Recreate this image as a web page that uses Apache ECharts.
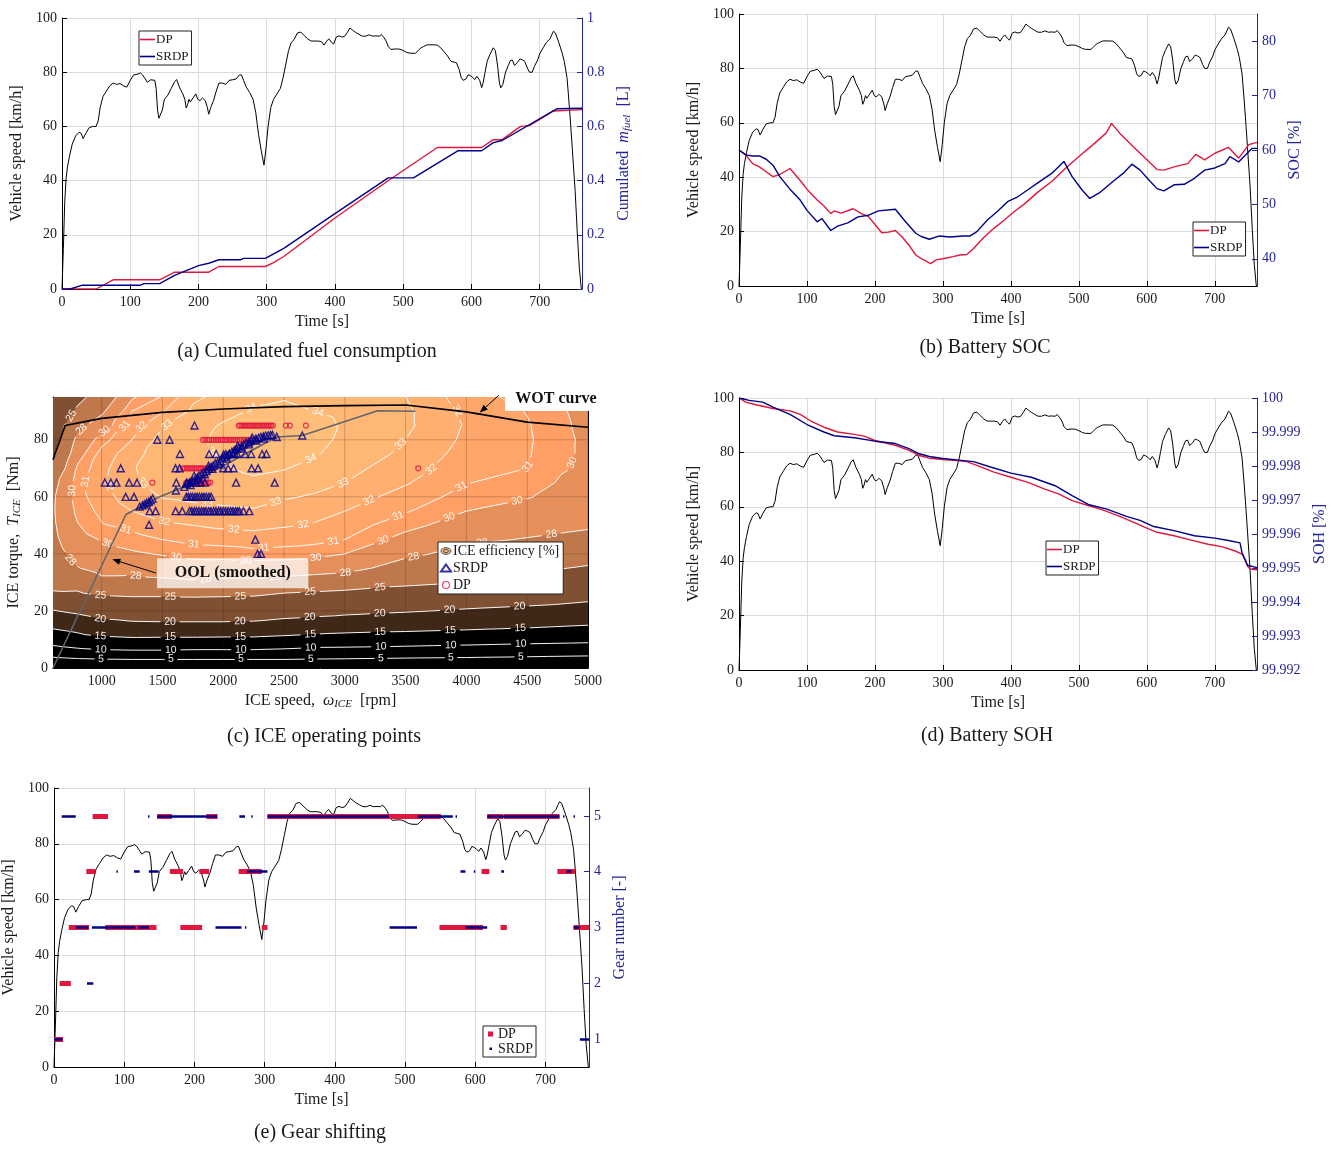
<!DOCTYPE html>
<html>
<head>
<meta charset="utf-8">
<title>DP vs SRDP energy management results</title>
<script src="https://cdn.jsdelivr.net/npm/echarts@6.0.0/dist/echarts.min.js"></script>
<style>
html, body { margin: 0; padding: 0; background: #fff; }
#wrap { position: relative; width: 1333px; height: 1149px; overflow: hidden; background: #fff; }
.panel { position: absolute; }
</style>
</head>
<body>
<div id="wrap">
  <div id="pa" class="panel" style="left:0;top:0;width:660px;height:378px"></div>
  <div id="pb" class="panel" style="left:660px;top:0;width:673px;height:378px"></div>
  <div id="pc" class="panel" style="left:0;top:380px;width:660px;height:385px"></div>
  <div id="pd" class="panel" style="left:660px;top:380px;width:673px;height:385px"></div>
  <div id="pe" class="panel" style="left:0;top:770px;width:660px;height:379px"></div>
</div>
<script>
// ---------------- drive-cycle speed trace [s, km/h] ----------------
const SPEED = [[0,0],[2,15],[4,32],[6,41],[8,45],[11,49],[15,53.5],[20,56.5],[25,57.8],[28,57.5],[31,55.5],[35,57.5],[40,59.6],[46,60],[50,60],[53,62],[56,67],[60,71],[65,73],[70,75],[75,76],[80,75.5],[85,75.8],[90,75],[95,74.5],[100,77],[105,79],[110,79.2],[115,79.7],[118,79],[122,77.5],[125,76.3],[130,77.2],[136,77],[138,74],[140,66],[142,63],[144,63],[147,66],[150,70],[155,71.5],[160,74],[165,76.5],[168,77.3],[172,74.5],[177,72],[180,70],[182,66.8],[184,68],[186,70],[188,69],[192,70.5],[196,72],[199,70],[202,69.5],[206,70.5],[210,69.5],[213,67],[215,64.5],[218,67],[222,69.5],[226,73],[230,76],[235,76],[240,75.5],[245,77],[250,77.2],[255,77.5],[260,79],[263,79],[266,77],[270,74.5],[275,72.5],[280,70],[284,65],[288,57],[292,51],[296,45.7],[299,52],[302,60],[306,67],[310,70],[315,72],[320,74],[324,78],[328,83],[332,88],[336,91],[340,92],[345,94.5],[350,94.8],[355,93.5],[360,92.3],[365,91.5],[370,91.5],[375,91.5],[380,91.3],[384,90],[388,91.5],[391,92.3],[395,91],[398,90.4],[402,93],[406,93.4],[410,93],[414,93.2],[418,94.6],[422,96.3],[426,95.5],[430,94.7],[435,94],[440,93.3],[445,93.3],[450,93.8],[455,93.3],[460,93.4],[465,93.3],[468,93.9],[472,92.7],[475,91.5],[478,89.5],[482,88.4],[490,88.6],[495,88.5],[500,88],[505,87.3],[510,87],[518,87],[522,88],[526,89],[530,89.5],[535,90.1],[545,90.1],[550,90],[555,89],[560,87.5],[565,86],[570,84],[575,83.7],[578,83.5],[582,81],[585,78],[588,77],[592,77.5],[595,79],[598,78.8],[602,78],[605,77.3],[608,78.5],[610,79],[612,77],[615,74.3],[617,76],[620,80],[623,84],[627,86.5],[632,89],[635,88],[638,83],[641,76],[643,74.2],[646,75.5],[650,80],[654,82.5],[657,84.3],[660,84.5],[663,82.5],[667,83.5],[671,84.9],[675,84.5],[678,84],[682,81.5],[685,80],[689,80],[692,82],[697,84.5],[700,86.8],[705,89],[710,91],[715,92.3],[718,94],[720,95.1],[723,94.5],[728,91],[733,87],[736,84],[740,78],[742,72],[745,62],[748,51],[752,36],[755,21],[758,8],[761,0]];

// ---------------- cumulated fuel [s, L] ----------------
const FUEL_DP = [[0,0],[50,0],[75,0.034],[143,0.034],[165,0.062],[215,0.062],[230,0.083],[298,0.083],[310,0.097],[325,0.12],[400,0.262],[480,0.403],[550,0.522],[615,0.522],[632,0.551],[645,0.551],[672,0.6],[685,0.603],[720,0.657],[762,0.662]];
const FUEL_SRDP = [[0,0],[12,0],[30,0.014],[115,0.014],[120,0.02],[143,0.02],[165,0.05],[200,0.086],[215,0.095],[230,0.108],[262,0.108],[266,0.113],[298,0.113],[325,0.15],[400,0.278],[478,0.41],[515,0.41],[580,0.51],[615,0.51],[632,0.54],[645,0.548],[725,0.665],[762,0.667]];

// ---------------- battery state of charge [s, %] ----------------
const SOC_DP = [[0,60],[10,59.1],[20,57.5],[30,56.9],[40,56],[50,55.1],[60,55.5],[75,56.6],[90,54.4],[100,52.8],[115,50.8],[125,49.7],[135,48.3],[140,48.8],[150,48.4],[168,49.2],[180,48.3],[190,47.8],[200,46.3],[210,44.8],[220,44.9],[230,45.2],[240,44],[250,42.5],[260,40.7],[270,39.9],[282,39.1],[290,39.8],[300,40],[315,40.4],[325,40.7],[335,40.8],[345,41.9],[360,43.9],[375,45.6],[390,47.1],[405,48.7],[420,50.1],[440,52.3],[460,54.2],[480,56.6],[500,58.8],[520,60.9],[540,63.1],[548,64.9],[560,63.1],[580,60.6],[600,58.2],[615,56.4],[625,56.3],[640,56.9],[660,57.5],[672,59.2],[685,58.2],[700,59.4],[720,60.5],[735,58.5],[750,61],[762,61.4]];
const SOC_SRDP = [[0,60],[10,59.1],[20,58.9],[30,58.9],[40,58.3],[50,57.2],[60,55.1],[75,52.8],[90,50.8],[100,48.9],[115,46.8],[122,47.4],[135,45.2],[145,46],[160,46.6],[175,47.7],[190,48],[205,48.8],[230,49.1],[245,46.8],[260,44.7],[268,44.1],[280,43.6],[295,44.2],[310,44],[330,44.2],[340,44.2],[350,45],[365,47.1],[380,48.7],[395,50.5],[410,51.4],[425,52.7],[440,54],[460,55.7],[478,57.9],[490,55.1],[505,52.6],[516,51.1],[530,52.1],[550,54.2],[565,55.7],[578,57.4],[590,56.3],[605,54.2],[615,52.9],[625,52.5],[640,53.6],[655,53.7],[670,54.8],[685,56.3],[700,56.7],[715,57.5],[722,58.8],[735,57.8],[745,59.1],[755,60.3],[762,60.3]];

// ---------------- battery state of health [s, %] ----------------
const SOH_DP = [[0,100],[10,99.99988],[25,99.9998],[50,99.99969],[75,99.99962],[90,99.99952],[105,99.99933],[125,99.99914],[145,99.999],[170,99.99893],[185,99.99887],[200,99.99875],[230,99.99861],[250,99.99846],[265,99.99831],[280,99.99823],[300,99.99819],[320,99.99816],[335,99.99813],[350,99.99802],[375,99.99782],[400,99.99767],[425,99.99752],[450,99.99732],[470,99.99718],[490,99.99698],[510,99.99686],[535,99.99671],[560,99.99652],[580,99.99635],[600,99.99617],[615,99.99605],[640,99.99595],[665,99.99582],[690,99.9957],[710,99.99563],[730,99.9955],[740,99.99541],[745,99.99525],[748,99.99505],[752,99.99497],[762,99.99495]];
const SOH_SRDP = [[0,100],[15,99.99993],[35,99.99988],[50,99.99973],[75,99.99952],[100,99.99922],[125,99.999],[140,99.99889],[170,99.99883],[200,99.99873],[230,99.99866],[250,99.99851],[265,99.99836],[280,99.99828],[300,99.99822],[320,99.99818],[345,99.99813],[370,99.99797],[400,99.99779],[430,99.99767],[465,99.99742],[490,99.99713],[515,99.99686],[540,99.99674],[570,99.99652],[590,99.9964],[610,99.99622],[640,99.9961],[670,99.99595],[700,99.99588],[720,99.99581],[737,99.99574],[740,99.99545],[744,99.99525],[748,99.99508],[762,99.99501]];

// ---------------- engaged gear: [from s, to s, gear] ----------------
const GEAR_DP = [[0,13,1],[8,24,2],[21,50,3],[46,59,4],[55,77,5],[73,146,3],[147,168,5],[165,184,4],[180,211,3],[207,221,4],[217,233,5],[263,296,4],[296,304,3],[304,551,5],[549,611,3],[609,620,4],[617,640,5],[636,645,3],[641,720,5],[717,742,4],[740,762,3]];
const GEAR_SRDP = [[0,12,1],[11,31,5],[31,49,3],[47,56,2],[54,116,3],[120,135,3],[89,91,4],[114,122,4],[134,136,5],[135,149,4],[147,232,5],[230,267,3],[264,272,5],[272,274,3],[275,304,4],[281,283,5],[304,477,5],[478,517,3],[518,568,5],[572,574,5],[579,586,4],[586,617,3],[598,600,4],[617,720,5],[637,641,4],[725,727,5],[730,737,4],[740,742,5],[740,749,3],[749,762,1]];

// ---------------- axis ticks ----------------
const TIME_TICKS = [0,100,200,300,400,500,600,700];
const SPEED_TICKS = [0,20,40,60,80,100];
const FUEL_TICKS = [0,0.2,0.4,0.6,0.8,1];
const SOC_TICKS = [40,50,60,70,80];
const SOH_TICKS = [99.992,99.993,99.994,99.995,99.996,99.997,99.998,99.999,100];
const GEAR_TICKS = [1,2,3,4,5];
const RPM_TICKS = [1000,1500,2000,2500,3000,3500,4000,4500,5000];
const NM_TICKS = [0,20,40,60,80];

// ---------------- ICE efficiency map [%] on (speed rpm) x (torque Nm) ----------------
const EFF_RPM = [600,800,1000,1250,1500,1750,2000,2250,2500,2750,3000,3500,4000,4500,5000];
const EFF_NM = [0,3,6,10,15,20,25,30,35,40,45,50,55,60,65,70,75,80,85,90,95];
const EFF = [
  [0,0,0,0,0,0,0,0,0,0,0,0,0,0,0],
  [3.9,4.5,4.8,5,5,5,5,5,5,4.8,4.7,4.4,4.2,3.9,3.6],
  [8.1,9,9.5,9.7,9.7,9.5,9.5,9.5,9.2,8.7,8.6,8.2,7.8,7.4,7],
  [12.1,13.2,13.9,14.3,14.2,14.2,14.1,14.1,13.7,13.2,12.9,12.6,12.1,11.6,11.2],
  [16.0,17,18.6,19.2,19.3,19.3,19.3,19.2,18.6,18.1,17.5,16.9,16.4,15.8,15],
  [19.8,20.8,22,22.1,22.2,22.2,22.2,22,21.6,21.3,21,20.3,19.6,19.1,18],
  [24.3,24.2,24.8,25,25,25.1,25,24.9,24.3,24,23.7,23.2,22.3,21.7,21.1],
  [26.0,26.2,27.4,27.3,27.5,27.7,27.5,27.5,27.1,26.8,26.6,25.6,25,23.9,22.7],
  [26.6,27.9,28.7,28.7,29.1,29.3,29.2,29.2,29.2,29,28.7,27.1,26.4,25.6,24.7],
  [27.1,28.7,29.4,29.8,30.1,30.4,30.5,30.7,30.6,30.4,30,28.4,27.4,26.7,26.3],
  [27.5,29.4,30.1,30.6,31,31.3,31.4,31.5,31.4,31.3,31,29.5,28.3,27.9,27.5],
  [27.7,29.9,30.9,31.3,31.8,32,32.2,32.3,32.1,31.9,31.5,30.4,29.3,28.6,28.2],
  [27.8,30.3,31.3,32,32.5,32.7,32.8,32.9,32.6,32.4,32,31.1,30,29.4,28.7],
  [27.7,30.6,31.6,32.5,33.05,33.2,33.3,33.4,33.1,32.9,32.5,31.6,30.6,30.1,29.1],
  [27.2,30.6,31.8,32.8,33.4,33.5,33.6,33.8,33.6,33.3,33,32.1,31.05,30.5,29.4],
  [25.8,30.2,31.7,32.9,33.6,33.7,33.9,34.2,34.05,33.7,33.3,32.5,31.4,31,29.6],
  [24.5,29.4,31.4,32.6,33.6,33.8,34.1,34.4,34.3,34.1,33.6,32.8,31.6,31.1,29.7],
  [23.6,28.6,30.6,32,33.4,33.8,34.2,34.5,34.5,34.3,33.8,33,31.8,31.15,29.7],
  [23,27.3,29.2,31.5,32.9,33.6,34.1,34.4,34.5,34.3,33.9,33.2,31.9,31.1,29.6],
  [22.4,25.5,27.6,31,31.9,33.2,33.7,34.1,34.3,34,33.8,33.2,31.8,30.95,29.5],
  [21.8,24.2,26.3,29.8,31.1,32.8,33.3,33.8,33.9,33.6,33.6,33,31.5,30.6,29.3]
];
const EFF_LEVELS = [5,10,15,20,25,28,30,31,32,33,34];

// wide-open-throttle and optimal operating line [rpm, Nm]
const WOT = [[600,73],[700,85],[1000,87.5],[1500,89.6],[2000,90.8],[2500,91.6],[3000,92],[3500,92.2],[4000,89.8],[4500,86.2],[5000,84.4]];
const OOL = [[600,0],[1200,53.8],[1450,59.5],[1700,64],[2440,81],[2650,81.5],[3270,90.2],[3580,90]];

// engine operating points [rpm, Nm]
const OP_SRDP = [
  [1764,85],[1458,80],[1559,80],
  [1644,75],[1884,75],[1942,75],[2020,75],[2050,75],[2080,75],[2115,75],[2180,75],[2230,75],[2320,75],[2355,75],
  [1157,70],[1608,70],[1641,70],[2000,70],[2040,70],[2085,70],[2233,70],[2287,70],
  [1026,65],[1075,65],[1122,65],[1226,65],[1291,65],[1614,65],[1700,65],[1725,65],[1750,65],[1780,65],[1815,65],[1850,65],[2106,65],[2423,65],
  [1611,62.2],
  [1198,60],[1266,60],[1696,60],[1712,60],[1731,60],[1748,60],[1769,60],[1786,60],[1804,60],[1825,60],[1842,60],[1861,60],[1883,60],[1901,60],
  [1395,55],[1444,55],[1608,55],[1663,55],[1723,55],[1741,55],[1762,55],[1780,55],[1801,55],[1822,55],[1840,55],[1858,55],[1881,55],[1899,55],[1921,55],[1940,55],[1962,55],[1979,55],[2001,55],[2020,55],[2041,55],[2062,55],[2080,55],[2101,55],[2118,55],[2133,55],[2166,55],[2215,55],
  [1390,50.2],[2264,45],[2283,40],[2311,40],
  [1313,56.6],[1336,57],[1352,57.4],[1370,57.9],[1388,58.3],[1404,58.8],[1420,59.4],
  [1680,63.5],[1700,64.5],[1722,65],[1745,65.6],[1765,66],[1786,66.8],[1800,67.5],[1822,68],[1840,68.6],[1862,69],[1880,69.8],[1900,70.5],[1917,71],[1935,71.8],[1955,72.1],[1976,72.6],[1994,73.5],[2012,74],[2031,74.6],[2050,75.1],[2071,75.8],[2090,76.3],[2111,76.8],[2129,77.3],[2151,77.8],[2170,78.3],[2189,78.9],[2211,79.2],[2229,79.7],[2252,80],[2269,80.4],[2291,80.7],[2310,81],[2331,81.2],[2349,81.5],[2371,81.6],[2390,81.7],[2406,81.7],[2440,81],[2650,81.5],
  [1731,64.1],[1792,66.1],[1849,67.9],[1911,69.8],[1968,71.4],[2029,73.4],[2092,75.4],[2148,76.9],[2212,78.4],[2271,79.7],[2333,80.4],[1761,67.4],[1879,70.9],[2002,74.8],[2119,77.9],[2238,80.8]
];
const OP_DP = [
  [2128,85],[2141,85],[2156,85],[2172,85],[2186,85],[2203,85],[2217,85],[2232,85],[2246,85],[2261,85],[2277,85],[2290,85],[2306,85],[2321,85],[2335,85],[2352,85],[2366,85],[2381,85],[2394,85],[2408,85],[2515,85],[2548,85],[2680,85],
  [1832,80],[1851,80],[1869,80],[1886,80],[1905,80],[1922,80],[1941,80],[1958,80],[1977,80],[1993,80],[2012,80],[2029,80],[2047,80],[2064,80],[2082,80],[2099,80],[2117,80],[2134,80],[2152,80],[2170,80],[2187,80],[2205,80],[2224,80],[2242,80],
  [1668,70],[1684,70],[1701,70],[1716,70],[1733,70],[1749,70],[1764,70],[1781,70],[1797,70],[1812,70],[1829,70],[1845,70],[1861,70],[1877,70],[1893,70],[1909,70],[3604,70],
  [1417,65],[1696,65],[1711,65],[1726,65],[1742,65],[1757,65],[1771,65],[1787,65],[1803,65],[1817,65],[1833,65],[1848,65],[1863,65],[1878,65],[1893,65]
];

// ---------------- styling ----------------
const FONT = '"Liberation Serif", "DejaVu Serif", serif';
const LBL_FONT = '"Liberation Sans", "DejaVu Sans", sans-serif';
const AX_BLUE = '#23239c';
const RED = '#e0173e';
const NAVY = '#00008a';
const GRID_C = '#dcdcdc';
const INK = '#1a1a1a';
const plain = function (v) { return String(v); };

function timeAxis(gap) {
  return {
    type: 'value', min: 0, max: 762,
    name: 'Time [s]', nameLocation: 'middle', nameGap: gap,
    nameTextStyle: { fontFamily: FONT, fontSize: 16, color: INK },
    axisLine: { show: true, onZero: false, lineStyle: { color: '#000', width: 1 } },
    axisTick: { show: true, inside: true, length: 5, customValues: TIME_TICKS, lineStyle: { color: '#000' } },
    axisLabel: { show: true, customValues: TIME_TICKS, fontFamily: FONT, fontSize: 14, color: INK, margin: 6, formatter: plain },
    splitLine: { show: true, lineStyle: { color: GRID_C, width: 1 } }
  };
}
function speedAxis(gap) {
  return {
    type: 'value', position: 'left', min: 0, max: 100,
    name: 'Vehicle speed [km/h]', nameLocation: 'middle', nameGap: gap, nameRotate: 90,
    nameTextStyle: { fontFamily: FONT, fontSize: 16, color: INK },
    axisLine: { show: true, onZero: false, lineStyle: { color: '#000' } },
    axisTick: { show: true, inside: true, length: 5, customValues: SPEED_TICKS, lineStyle: { color: '#000' } },
    axisLabel: { customValues: SPEED_TICKS, fontFamily: FONT, fontSize: 14, color: INK, margin: 5, formatter: plain },
    splitLine: { show: true, lineStyle: { color: GRID_C, width: 1 } }
  };
}
const SUB_RICH = {
  i: { fontFamily: FONT, fontStyle: 'italic', fontSize: 16, color: AX_BLUE },
  s: { fontFamily: FONT, fontStyle: 'italic', fontSize: 11, color: AX_BLUE, padding: [7, 0, 0, 0] }
};
function rightAxis(o) {
  return {
    type: 'value', position: 'right', min: o.min, max: o.max,
    name: o.name, nameLocation: 'middle', nameGap: o.gap, nameRotate: 90,
    nameTextStyle: { fontFamily: FONT, fontSize: 16, color: AX_BLUE, rich: SUB_RICH },
    axisLine: { show: true, onZero: false, lineStyle: { color: AX_BLUE } },
    axisTick: { show: true, inside: true, length: 5, customValues: o.ticks, lineStyle: { color: AX_BLUE } },
    axisLabel: { customValues: o.ticks, fontFamily: FONT, fontSize: 14, color: AX_BLUE, margin: 5, formatter: o.fmt || plain },
    splitLine: { show: false }
  };
}
function speedSeries() {
  return { name: 'Vehicle speed', type: 'line', xAxisIndex: 0, yAxisIndex: 0, data: SPEED, symbol: 'none',
    lineStyle: { color: '#000', width: 1 }, z: 2, silent: true };
}
function resultSeries(name, data, color) {
  return { name: name, type: 'line', xAxisIndex: 0, yAxisIndex: 1, data: data, symbol: 'none',
    lineStyle: { color: color, width: 1.4 }, itemStyle: { color: color }, z: 3 };
}
function lineLegend(left, top) {
  return {
    show: true, orient: 'vertical', left: left, top: top, data: ['DP', 'SRDP'],
    icon: 'rect', itemWidth: 15, itemHeight: 1.6, itemGap: 4, padding: [2, 3, 2, 1],
    borderColor: '#222', borderWidth: 1, backgroundColor: '#fff', borderRadius: 0,
    selectedMode: false,
    textStyle: { fontFamily: FONT, fontSize: 13, color: INK, padding: [0, 0, 0, -4] }
  };
}
function caption(text, x, y) {
  return { type: 'text', x: x, y: y, z: 100,
    style: { text: text, fontFamily: FONT, fontSize: 20, fill: INK, align: 'center', verticalAlign: 'middle' } };
}
function gridBox(left, top, width, height) {
  return { left: left, top: top, width: width, height: height, outerBoundsMode: 'none', containLabel: false };
}

// ---------------- (a) cumulated fuel ----------------
const chartA = echarts.init(document.getElementById('pa'), null, { renderer: 'canvas' });
chartA.setOption({
  animation: false,
  grid: gridBox(62, 18, 520, 271),
  xAxis: timeAxis(21),
  yAxis: [speedAxis(30), rightAxis({ min: 0, max: 1, ticks: FUEL_TICKS, gap: 27,
    name: 'Cumulated  {i|m}{s|fuel}  [L]' })],
  legend: lineLegend(139, 31),
  series: [speedSeries(), resultSeries('DP', FUEL_DP, RED), resultSeries('SRDP', FUEL_SRDP, NAVY)],
  graphic: [caption('(a) Cumulated fuel consumption', 307, 352)]
});

// ---------------- (b) battery SOC ----------------
const chartB = echarts.init(document.getElementById('pb'));
chartB.setOption({
  animation: false,
  grid: gridBox(79, 14, 518, 272),
  xAxis: timeAxis(21),
  yAxis: [speedAxis(30), rightAxis({ min: 35, max: 85, ticks: SOC_TICKS, gap: 25, name: 'SOC [%]' })],
  legend: lineLegend(533, 222),
  series: [speedSeries(), resultSeries('DP', SOC_DP, RED), resultSeries('SRDP', SOC_SRDP, NAVY)],
  graphic: [caption('(b) Battery SOC', 325, 348)]
});

// ---------------- (d) battery SOH ----------------
const chartD = echarts.init(document.getElementById('pd'));
chartD.setOption({
  animation: false,
  grid: gridBox(79, 18, 518, 272),
  xAxis: timeAxis(21),
  yAxis: [speedAxis(30), rightAxis({ min: 99.992, max: 100, ticks: SOH_TICKS, gap: 50, name: 'SOH [%]',
    fmt: function (v) { return Math.abs(v - 100) < 1e-9 ? '100' : v.toFixed(3); } })],
  legend: lineLegend(386, 161),
  series: [speedSeries(), resultSeries('DP', SOH_DP, RED), resultSeries('SRDP', SOH_SRDP, NAVY)],
  graphic: [caption('(d) Battery SOH', 327, 356)]
});

// ---------------- (e) gear shifting ----------------
function gearLines(name, segs, color, width, z) {
  return {
    name: name, type: 'lines', coordinateSystem: 'cartesian2d', xAxisIndex: 0, yAxisIndex: 1,
    polyline: false, silent: true, z: z,
    lineStyle: { color: color, width: width, opacity: 1, cap: 'butt' },
    data: segs.map(function (s) { return { coords: [[s[0], s[2]], [s[1], s[2]]] }; })
  };
}
const chartE = echarts.init(document.getElementById('pe'));
chartE.setOption({
  animation: false,
  grid: gridBox(54, 18, 535, 279),
  xAxis: timeAxis(23),
  yAxis: [speedAxis(30), rightAxis({ min: 0.5, max: 5.5, ticks: GEAR_TICKS, gap: 16, name: 'Gear number [-]' })],
  series: [speedSeries(), gearLines('DP', GEAR_DP, RED, 5, 3), gearLines('SRDP', GEAR_SRDP, NAVY, 2.6, 4)],
  graphic: [
    caption('(e) Gear shifting', 320, 363),
    { type: 'group', x: 483, y: 256, z: 100, children: [
      { type: 'rect', shape: { x: 0, y: 0, width: 53, height: 31 }, style: { fill: '#fff', stroke: '#222', lineWidth: 1 } },
      { type: 'rect', shape: { x: 5, y: 5.5, width: 5, height: 5 }, style: { fill: RED } },
      { type: 'text', x: 15, y: 8.5, style: { text: 'DP', fontFamily: FONT, fontSize: 14, fill: INK, verticalAlign: 'middle' } },
      { type: 'rect', shape: { x: 6.5, y: 21.5, width: 2.5, height: 2.5 }, style: { fill: NAVY } },
      { type: 'text', x: 15, y: 23, style: { text: 'SRDP', fontFamily: FONT, fontSize: 14, fill: INK, verticalAlign: 'middle' } }
    ] }
  ]
});

// ---------------- (c) ICE operating points on the efficiency map ----------------
// MATLAB-style copper colour map spread over 10..35 %
function copper(x) {
  x = Math.max(0, Math.min(1, x));
  return 'rgb(' + Math.round(255 * Math.min(1, 1.25 * x)) + ',' + Math.round(255 * 0.7812 * x) + ',' + Math.round(255 * 0.4975 * x) + ')';
}
function bandColor(level) { return copper((level - 10) / 25); }

// keep the part of a polygon where the linearly varying value is >= level
function clipAbove(pts, vals, level) {
  const out = [];
  for (let k = 0; k < pts.length; k++) {
    const a = pts[k], b = pts[(k + 1) % pts.length];
    const va = vals[k], vb = vals[(k + 1) % pts.length];
    const ina = va >= level, inb = vb >= level;
    if (ina) out.push(a);
    if (ina !== inb) {
      const t = (level - va) / (vb - va);
      out.push([a[0] + t * (b[0] - a[0]), a[1] + t * (b[1] - a[1])]);
    }
  }
  return out;
}
function cumulative(pts) {
  const c = [0];
  for (let k = 1; k < pts.length; k++) c.push(c[k - 1] + Math.hypot(pts[k][0] - pts[k - 1][0], pts[k][1] - pts[k - 1][1]));
  return c;
}
function pointAt(pts, c, s) {
  for (let k = 1; k < pts.length; k++) {
    if (c[k] >= s) {
      const seg = c[k] - c[k - 1] || 1, t = (s - c[k - 1]) / seg;
      return [pts[k - 1][0] + t * (pts[k][0] - pts[k - 1][0]), pts[k - 1][1] + t * (pts[k][1] - pts[k - 1][1])];
    }
  }
  return pts[pts.length - 1];
}
function subLine(pts, c, s0, s1) {
  const out = [pointAt(pts, c, s0)];
  for (let k = 0; k < pts.length; k++) if (c[k] > s0 && c[k] < s1) out.push(pts[k]);
  out.push(pointAt(pts, c, s1));
  return out;
}

function renderEfficiencyMap(params, api) {
  const nx = EFF_RPM.length, ny = EFF_NM.length;
  const P = [], V = [];
  for (let j = 0; j < ny; j++) for (let i = 0; i < nx; i++) {
    P.push(api.coord([EFF_RPM[i], EFF_NM[j]]));
    V.push(EFF[j][i] + 1e-3);
  }
  const tris = [];
  for (let j = 0; j < ny - 1; j++) for (let i = 0; i < nx - 1; i++) {
    const a = j * nx + i, b = a + 1, c = a + nx + 1, d = a + nx;
    tris.push([a, b, c], [a, c, d]);
  }
  const pMin = P[0], pMax = P[nx * ny - 1];
  const box = { x0: Math.min(pMin[0], pMax[0]), x1: Math.max(pMin[0], pMax[0]), y0: Math.min(pMin[1], pMax[1]), y1: Math.max(pMin[1], pMax[1]) };
  const children = [];
  // filled bands
  children.push({ type: 'rect', shape: { x: box.x0, y: box.y0, width: box.x1 - box.x0, height: box.y1 - box.y0 }, style: { fill: bandColor(0) } });
  EFF_LEVELS.forEach(function (L) {
    let d = '', mnx = Infinity, mny = Infinity, mxx = -Infinity, mxy = -Infinity;
    tris.forEach(function (t) {
      const poly = clipAbove(t.map(function (k) { return P[k]; }), t.map(function (k) { return V[k]; }), L);
      if (poly.length < 3) return;
      d += 'M' + poly.map(function (p) {
        mnx = Math.min(mnx, p[0]); mny = Math.min(mny, p[1]); mxx = Math.max(mxx, p[0]); mxy = Math.max(mxy, p[1]);
        return p[0].toFixed(2) + ' ' + p[1].toFixed(2);
      }).join('L') + 'Z';
    });
    if (d) children.push({ type: 'path', shape: { pathData: d, x: mnx, y: mny, width: mxx - mnx, height: mxy - mny, layout: 'cover' },
      style: { fill: bandColor(L) } });
  });
  // grid lines over the map
  RPM_TICKS.forEach(function (r) {
    const p = api.coord([r, 0]);
    children.push({ type: 'line', shape: { x1: p[0], y1: box.y0, x2: p[0], y2: box.y1 }, style: { stroke: 'rgba(40,25,15,0.22)', lineWidth: 1 } });
  });
  NM_TICKS.forEach(function (n) {
    if (n === 0) return;
    const p = api.coord([600, n]);
    children.push({ type: 'line', shape: { x1: box.x0, y1: p[1], x2: box.x1, y2: p[1] }, style: { stroke: 'rgba(40,25,15,0.22)', lineWidth: 1 } });
  });
  // iso-efficiency lines with inline labels
  EFF_LEVELS.forEach(function (L) {
    const segs = [];
    tris.forEach(function (t) {
      const hits = [];
      [[t[0], t[1]], [t[1], t[2]], [t[2], t[0]]].forEach(function (e) {
        const lo = Math.min(e[0], e[1]), hi = Math.max(e[0], e[1]);
        if ((V[lo] >= L) !== (V[hi] >= L)) {
          const tt = (L - V[lo]) / (V[hi] - V[lo]);
          hits.push({ key: lo + '_' + hi, p: [P[lo][0] + tt * (P[hi][0] - P[lo][0]), P[lo][1] + tt * (P[hi][1] - P[lo][1])] });
        }
      });
      if (hits.length === 2) segs.push(hits);
    });
    const adj = {};
    segs.forEach(function (s, idx) { s.forEach(function (h) { (adj[h.key] = adj[h.key] || []).push(idx); }); });
    const used = segs.map(function () { return false; });
    function walk(idx, key) {
      const s0 = segs[idx];
      const line = [(s0[0].key === key ? s0[0] : s0[1]).p];
      while (idx !== -1 && !used[idx]) {
        used[idx] = true;
        const s = segs[idx];
        const other = s[0].key === key ? s[1] : s[0];
        line.push(other.p);
        key = other.key;
        const nxt = (adj[key] || []).find(function (k) { return !used[k]; });
        idx = nxt === undefined ? -1 : nxt;
      }
      return line;
    }
    const lines = [];
    Object.keys(adj).forEach(function (k) { if (adj[k].length === 1 && !used[adj[k][0]]) lines.push(walk(adj[k][0], k)); });
    segs.forEach(function (s, i) { if (!used[i]) lines.push(walk(i, s[0].key)); });

    const text = String(L), halfGap = text.length * 3.3 + 3;
    lines.forEach(function (pts) {
      if (pts[0][0] > pts[pts.length - 1][0] + 1) pts.reverse();
      const c = cumulative(pts), total = c[c.length - 1];
      const gaps = [];
      for (let s = 48; s < total - 8; s += 70) {
        const p = pointAt(pts, c, s);
        if (p[0] < box.x0 + 5 || p[0] > box.x1 - 4 || p[1] < box.y0 + 5 || p[1] > box.y1 - 4) continue;
        const q0 = pointAt(pts, c, Math.max(0, s - 7)), q1 = pointAt(pts, c, Math.min(total, s + 7));
        let ang = Math.atan2(q1[1] - q0[1], q1[0] - q0[0]);
        if (ang > Math.PI / 2) ang -= Math.PI;
        if (ang < -Math.PI / 2) ang += Math.PI;
        gaps.push([s - halfGap, s + halfGap]);
        children.push({ type: 'text', x: p[0], y: p[1], rotation: -ang, z2: 5,
          style: { text: text, fontFamily: LBL_FONT, fontSize: 10.5, fill: 'rgba(255,255,255,0.92)', align: 'center', verticalAlign: 'middle' } });
      }
      let from = 0;
      gaps.concat([[total, total]]).forEach(function (g) {
        if (g[0] > from + 0.5) {
          children.push({ type: 'polyline', shape: { points: subLine(pts, c, from, Math.min(g[0], total)) },
            style: { stroke: 'rgba(255,255,255,0.95)', lineWidth: 1, fill: null } });
        }
        from = g[1];
      });
    });
  });
  return { type: 'group', children: children };
}

const chartC = echarts.init(document.getElementById('pc'));
const boxAxis = function (pos, min, max, ticks) {
  return { type: 'value', position: pos, min: min, max: max,
    axisLine: { show: true, onZero: false, lineStyle: { color: '#000' } },
    axisTick: { show: true, inside: true, length: 5, customValues: ticks, lineStyle: { color: '#000' } },
    axisLabel: { show: false }, splitLine: { show: false } };
};
const BLACK_RICH = {
  i: { fontFamily: FONT, fontStyle: 'italic', fontSize: 16, color: INK },
  s: { fontFamily: FONT, fontStyle: 'italic', fontSize: 11, color: INK, padding: [7, 0, 0, 0] }
};
chartC.setOption({
  animation: false,
  grid: gridBox(53, 17, 535, 271),
  xAxis: [
    { type: 'value', position: 'bottom', min: 600, max: 5000,
      name: 'ICE speed,  {i|ω}{s|ICE}  [rpm]', nameLocation: 'middle', nameGap: 22,
      nameTextStyle: { fontFamily: FONT, fontSize: 16, color: INK, rich: BLACK_RICH },
      axisLine: { show: true, onZero: false, lineStyle: { color: '#000' } },
      axisTick: { show: true, inside: true, length: 5, customValues: RPM_TICKS, lineStyle: { color: '#000' } },
      axisLabel: { customValues: RPM_TICKS, fontFamily: FONT, fontSize: 14, color: INK, margin: 6, formatter: plain },
      splitLine: { show: false } },
    boxAxis('top', 600, 5000, RPM_TICKS)
  ],
  yAxis: [
    { type: 'value', position: 'left', min: 0, max: 95,
      name: 'ICE torque,  {i|T}{s|ICE}  [Nm]', nameLocation: 'middle', nameGap: 30, nameRotate: 90,
      nameTextStyle: { fontFamily: FONT, fontSize: 16, color: INK, rich: BLACK_RICH },
      axisLine: { show: true, onZero: false, lineStyle: { color: '#000' } },
      axisTick: { show: true, inside: true, length: 5, customValues: NM_TICKS, lineStyle: { color: '#000' } },
      axisLabel: { customValues: NM_TICKS, fontFamily: FONT, fontSize: 14, color: INK, margin: 5, formatter: plain },
      splitLine: { show: false } },
    boxAxis('right', 0, 95, NM_TICKS)
  ],
  legend: {
    show: true, orient: 'vertical', left: 438, top: 162, selectedMode: false,
    itemWidth: 10, itemHeight: 7, itemGap: 3, padding: [2, 4, 2, 2],
    borderColor: '#222', borderWidth: 1, backgroundColor: '#fff', borderRadius: 0,
    textStyle: { fontFamily: FONT, fontSize: 14, color: INK, padding: [0, 0, 0, -3] },
    data: [
      { name: 'ICE efficiency [%]', icon: 'path://M0,4a6,4 0 1,0 12,0a6,4 0 1,0 -12,0zM3,4a3,2 0 1,0 6,0a3,2 0 1,0 -6,0z',
        itemStyle: { color: '#f6b57c', borderColor: '#555', borderWidth: 1 } },
      { name: 'SRDP', icon: 'triangle' },
      { name: 'DP', icon: 'circle', itemStyle: { borderWidth: 1.2 } }
    ]
  },
  series: [
    { name: 'ICE efficiency [%]', type: 'custom', xAxisIndex: 0, yAxisIndex: 0, data: [[600, 0]],
      renderItem: renderEfficiencyMap, silent: true, z: 1, itemStyle: { color: '#f6b57c' } },
    { name: 'WOT', type: 'line', xAxisIndex: 0, yAxisIndex: 0, data: WOT, symbol: 'none',
      lineStyle: { color: '#000', width: 1.7 }, z: 3, silent: true },
    { name: 'OOL', type: 'line', xAxisIndex: 0, yAxisIndex: 0, data: OOL, symbol: 'none',
      lineStyle: { color: '#62666b', width: 1.6 }, z: 3, silent: true },
    { name: 'DP', type: 'scatter', xAxisIndex: 0, yAxisIndex: 0, data: OP_DP, symbol: 'circle', symbolSize: 5,
      itemStyle: { color: 'rgba(0,0,0,0)', borderColor: RED, borderWidth: 1.2 }, z: 4, silent: true },
    { name: 'SRDP', type: 'scatter', xAxisIndex: 0, yAxisIndex: 0, data: OP_SRDP, symbol: 'triangle', symbolSize: 7,
      itemStyle: { color: 'rgba(0,0,0,0)', borderColor: NAVY, borderWidth: 1.4 }, z: 5, silent: true }
  ]
});

// annotations anchored to the map coordinates
(function () {
  const px = function (p) { return chartC.convertToPixel({ xAxisIndex: 0, yAxisIndex: 0 }, p); };
  function arrow(from, to) {
    const ang = Math.atan2(to[1] - from[1], to[0] - from[0]);
    const h = 8, w = 3.2;
    const bx = to[0] - h * Math.cos(ang), by = to[1] - h * Math.sin(ang);
    const nx = -Math.sin(ang) * w, ny = Math.cos(ang) * w;
    return [
      { type: 'line', z: 110, shape: { x1: from[0], y1: from[1], x2: bx, y2: by }, style: { stroke: '#000', lineWidth: 1 } },
      { type: 'polygon', z: 110, shape: { points: [[to[0], to[1]], [bx + nx, by + ny], [bx - nx, by - ny]] }, style: { fill: '#000' } }
    ];
  }
  const oolA = px([1456, 38.5]), oolB = px([2700, 28]);
  const oolTip = px([1088, 38.1]), oolTail = px([1446, 33.3]);
  const wotTip = px([4110, 89.6]);
  const g = [caption('(c) ICE operating points', 324, 357),
    { type: 'rect', z: 105, shape: { x: oolA[0], y: oolA[1], width: oolB[0] - oolA[0], height: oolB[1] - oolA[1] },
      style: { fill: 'rgba(255,255,255,0.74)' } },
    { type: 'text', z: 106, x: (oolA[0] + oolB[0]) / 2, y: (oolA[1] + oolB[1]) / 2,
      style: { text: 'OOL (smoothed)', fontFamily: FONT, fontSize: 16, fontWeight: 'bold', fill: '#111', align: 'center', verticalAlign: 'middle' } },
    { type: 'rect', z: 105, shape: { x: 505, y: 6, width: 97, height: 25 }, style: { fill: '#fff' } },
    { type: 'text', z: 106, x: 556, y: 18.5,
      style: { text: 'WOT curve', fontFamily: FONT, fontSize: 16, fontWeight: 'bold', fill: '#111', align: 'center', verticalAlign: 'middle' } }
  ].concat(arrow(oolTail, oolTip)).concat(arrow([wotTip[0] + 19, wotTip[1] - 17], wotTip));
  chartC.setOption({ graphic: g });
})();
</script>
</body>
</html>
